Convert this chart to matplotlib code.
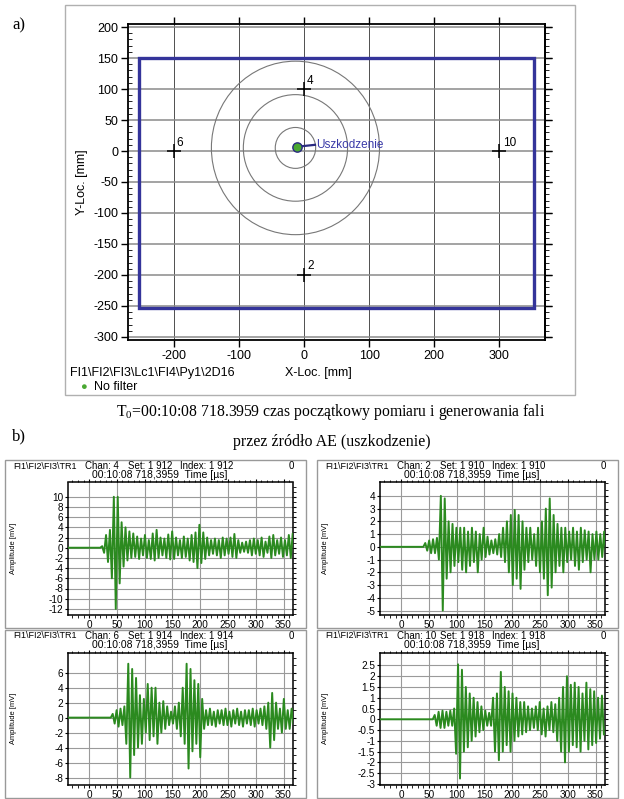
import numpy as np
import matplotlib.pyplot as plt
from matplotlib.patches import Rectangle, Ellipse
from matplotlib.ticker import MultipleLocator

W, H = 624, 799

# --- a) location plot ---
sensor_ids = ['6', '4', '2', '10']
sensor_x = [-200, 0, 0, 300]
sensor_y = [0, 100, -200, 0]
plate_x = [-253, 353]
plate_y = [-253, 150]
source_x, source_y = -10, 7
circle_cx, circle_cy = -13, 5
circle_rx = [31, 80, 129]
circle_ry = [33, 86, 140]

# --- b) waveforms (peak amplitudes in mV, one every half period) ---
chan_ids = [4, 2, 6, 10]
set_ids = [1912, 1910, 1914, 1918]
onsets = [20, 40, 39, 57]          # us
pre_start = -38                    # us, start of pre-trigger
half_period = 3.5                  # us
ylims = [(-13.2, 12.8), (-5.35, 5.05), (-9.0, 8.7), (-3.05, 3.1)]
yticks = [np.arange(-12, 11, 2), np.arange(-5, 5, 1), np.arange(-8, 7, 2), np.arange(-3, 2.6, 0.5)]

chan4 = [0.3, -1.0, 2.5, -2.8, 3.5, -6.0, 10.0, -12.0, 10.0, -7.0,
         5.0, -3.7, 4.0, -2.5, 3.2, -2.0, 2.8, -1.8, 2.2, -2.2,
         1.8, -1.5, 2.5, -2.0, 1.5, -2.2, 2.8, -2.5, 3.5, -2.0,
         2.0, -1.5, 1.8, -2.0, 2.6, -2.3, 3.2, -2.2, 2.0, -1.5,
         1.5, -2.0, 2.2, -1.8, 1.8, -2.5, 2.5, -2.8, 3.0, -4.0,
         4.5, -3.0, 3.0, -2.2, 2.0, -1.5, 1.5, -1.2, 1.8, -1.5,
         1.5, -2.0, 2.0, -1.5, 1.8, -1.2, 2.0, -1.8, 2.7, -2.0,
         1.5, -1.0, 1.0, -0.8, 1.2, -1.0, 1.5, -1.5, 1.8, -1.2,
         1.5, -1.5, 2.0, -1.8, 1.2, -1.0, 2.2, -2.0, 2.5, -1.5,
         1.5, -1.2, 2.0, -1.8, 1.5, -1.5, 2.5, -2.0, 2.8, -1.5]
chan2 = [0.3, -0.3, 0.5, -0.5, 0.6, -0.5, 0.7, -1.0, 4.0, -5.0,
         3.8, -2.5, 2.0, -2.0, 1.8, -1.5, 1.5, -1.2, 1.5, -1.8,
         1.5, -2.0, 1.2, -1.5, 1.5, -1.2, 1.2, -2.0, 1.0, -1.0,
         1.5, -0.8, 0.8, -0.6, 0.5, -0.5, 0.6, -0.6, 1.0, -0.8,
         1.5, -1.2, 2.0, -2.0, 2.5, -3.0, 2.9, -2.5, 2.5, -3.3,
         2.0, -1.8, 1.5, -1.2, 1.5, -1.0, 1.0, -1.5, 1.5, -2.0,
         2.0, -2.5, 3.0, -3.8, 3.8, -3.2, 2.5, -2.0, 1.8, -1.5,
         1.5, -2.0, 1.5, -1.2, 1.2, -1.0, 1.5, -1.5, 1.2, -1.8,
         1.5, -1.2, 1.3, -1.0, 1.2, -2.0, 1.0, -1.0, 1.2, -1.0,
         1.0, -0.8, 1.2, -0.5]
chan6 = [0.5, -0.8, 1.0, -1.2, 1.2, -1.0, 1.5, -3.5, 7.2, -8.0,
         6.5, -5.0, 5.3, -4.0, 3.0, -3.5, 2.5, -2.0, 4.5, -3.0,
         4.0, -2.5, 4.0, -3.5, 2.0, -2.0, 2.2, -1.5, 1.5, -1.0,
         0.8, -0.8, 1.5, -1.5, 2.0, -2.5, 4.0, -3.5, 7.2, -6.8,
         6.5, -4.5, 5.0, -3.5, 4.5, -5.3, 2.5, -1.5, 1.0, -1.0,
         1.2, -1.0, 0.8, -1.2, 1.0, -0.8, 1.0, -1.0, 1.2, -1.0,
         0.8, -1.2, 1.0, -0.8, 1.2, -1.0, 0.8, -1.2, 1.0, -0.8,
         1.0, -1.0, 1.2, -1.2, 1.0, -0.8, 1.2, -1.0, 1.5, -1.5,
         2.0, -4.0, 3.3, -3.0, 2.0, -1.5, 1.2, -2.0, 2.5, -1.5,
         1.0, -1.5, 1.2, -0.8]
chan10 = [0.2, -0.3, 0.35, -0.4, 0.4, -0.4, 0.35, -0.3, 0.4, -0.3,
          0.5, -1.6, 2.55, -2.75, 2.3, -1.5, 1.5, -1.3, 1.2, -1.0,
          1.0, -0.8, 0.8, -0.6, 0.6, -0.5, 0.4, -0.3, 0.3, -0.3,
          1.0, -1.5, 1.2, -1.9, 2.2, -1.5, 1.5, -1.2, 1.3, -1.5,
          1.2, -1.0, 1.0, -0.8, 0.8, -0.7, 0.8, -0.6, 0.6, -0.5,
          0.5, -0.4, 0.6, -0.5, 0.8, -0.7, 0.5, -0.8, 0.6, -0.5,
          0.8, -0.6, 0.7, -1.0, 1.0, -1.5, 1.5, -2.0, 2.0, -1.5,
          1.6, -1.2, 1.7, -1.3, 1.5, -1.5, 1.2, -1.0, 1.7, -1.4,
          1.4, -1.2, 1.3, -1.1, 1.0, -0.9, 1.1, -0.7]
waves = [chan4, chan2, chan6, chan10]

plt.rcParams['font.family'] = ['Liberation Sans', 'DejaVu Sans']
plt.rcParams['axes.unicode_minus'] = False
fig = plt.figure(figsize=(W / 100, H / 100), dpi=100)
fig.patch.set_facecolor('white')


def fx(px):
    return px / W


def fy(py):
    return 1 - py / H


def frame(x0, y0, x1, y1, color='#b0b0b0', lw=1.0):
    fig.patches.append(Rectangle((fx(x0), fy(y1)), fx(x1) - fx(x0), fy(y0) - fy(y1),
                                 transform=fig.transFigure, fill=False,
                                 edgecolor=color, linewidth=lw))


# ---------- panel a ----------
frame(65, 5, 575, 395)
fig.text(fx(12), fy(25), 'a)', family='Liberation Serif', fontsize=12, va='center')

ax = fig.add_axes([fx(128), fy(340), fx(545) - fx(128), fy(24) - fy(340)])
ax.set_xlim(-270, 370)
ax.set_ylim(-305, 205)
ax.set_xticks(np.arange(-200, 301, 100))
ax.set_yticks(np.arange(-300, 201, 50))
ax.yaxis.set_minor_locator(MultipleLocator(10))
for v in np.arange(-200, 301, 100):
    ax.axvline(v, color='#333333', lw=0.6, zorder=1)
for v in np.arange(-300, 201, 50):
    ax.axhline(v, color='#8a8a8a', lw=1.1, zorder=1)
ax.tick_params(which='major', direction='out', length=5, width=1.0,
               top=True, right=True, labelsize=9, pad=2)
ax.tick_params(which='minor', direction='in', length=3, width=0.6, left=True, right=False)
sec = ax.secondary_yaxis('right')
sec.set_yticks(np.arange(-300, 201, 50))
sec.yaxis.set_minor_locator(MultipleLocator(10))
sec.tick_params(which='both', direction='out', labelright=False)
sec.tick_params(which='major', length=5)
sec.tick_params(which='minor', length=3, width=0.6)
for s in ax.spines.values():
    s.set_linewidth(1.3)
sec.spines['right'].set_linewidth(1.3)

ax.add_patch(Rectangle((plate_x[0], plate_y[0]), plate_x[1] - plate_x[0], plate_y[1] - plate_y[0],
                       fill=False, edgecolor='#34349a', lw=2.4, zorder=3))
for rx, ry in zip(circle_rx, circle_ry):
    ax.add_patch(Ellipse((circle_cx, circle_cy), 2 * rx, 2 * ry, fill=False,
                         edgecolor='#777777', lw=0.8, zorder=2))
ax.scatter(sensor_x, sensor_y, marker='+', s=110, color='black', linewidths=1.1, zorder=4)
for sid, sx, sy in zip(sensor_ids, sensor_x, sensor_y):
    ax.text(sx + 5, sy + 4, sid, fontsize=8.5, ha='left', va='bottom', zorder=5)
ax.plot([source_x, 17], [source_y, 10], color='#2a2a80', lw=1.6, zorder=5)
ax.scatter([source_x], [source_y], s=45, color='#4aa832', edgecolors='#2a2a80',
           linewidths=1.0, zorder=6)
ax.text(18, 10, 'Uszkodzenie', color='#3a3aa8', fontsize=8.5, va='center', zorder=6)
ax.set_ylabel('Y-Loc. [mm]', fontsize=9, labelpad=4)
fig.text(fx(318), fy(373), 'X-Loc. [mm]', fontsize=9, ha='center', va='center')
fig.text(fx(70), fy(373), 'FI1\\FI2\\FI3\\Lc1\\FI4\\Py1\\2D16', fontsize=9, va='center')
fig.text(fx(83), fy(387), '\u25cf', color='#4aa832', fontsize=8, ha='center', va='center')
fig.text(fx(94), fy(387), 'No filter', fontsize=9, va='center')

# ---------- caption ----------
fig.text(fx(331), fy(412), r'T$_{\mathregular{0}}$=00:10:08 718.3959 czas początkowy pomiaru i generowania fali',
         family='Liberation Serif', fontsize=11.3, ha='center', va='center')
fig.text(fx(332), fy(442), 'przez źródło AE (uszkodzenie)',
         family='Liberation Serif', fontsize=11.5, ha='center', va='center')
fig.text(fx(12), fy(436), 'b)', family='Liberation Serif', fontsize=12, va='center')

# ---------- panel b ----------
col_x = [0, 312, 0, 312]
row_y = [460, 460, 630, 630]
for k in range(4):
    ox, oy = col_x[k], row_y[k]
    frame(ox + 5, oy, ox + 306, oy + 168, color='#999999', lw=1.0)
    setstr = f'{set_ids[k]:,}'.replace(',', ' ')
    fs = 7.0
    l1 = oy + 6
    fig.text(fx(ox + 13), fy(l1), 'FI1\\FI2\\FI3\\TR1', fontsize=6.5, va='center')
    fig.text(fx(ox + 85), fy(l1), f'Chan: {chan_ids[k]}', fontsize=fs, va='center')
    fig.text(fx(ox + 128), fy(l1), f'Set: {setstr}', fontsize=fs, va='center')
    fig.text(fx(ox + 180), fy(l1), f'Index: {setstr}', fontsize=fs, va='center')
    fig.text(fx(ox + 289), fy(l1), '0', fontsize=fs, va='center')
    fig.text(fx(ox + 160), fy(oy + 14.5), '00:10:08 718,3959  Time [\u00b5s]',
             fontsize=7.5, ha='center', va='center')

    top = oy + 22.5
    bot = oy + 155
    a = fig.add_axes([fx(ox + 68), fy(bot), fx(225), fy(top) - fy(bot)])
    v = waves[k]
    t = np.r_[pre_start, onsets[k], onsets[k] + half_period * (1 + np.arange(len(v)))]
    y = np.r_[0, 0, v]
    a.plot(t, y, color='#2b8a1f', lw=1.4, zorder=3)
    a.set_xlim(-38, 367)
    a.set_ylim(*ylims[k])
    a.set_xticks(np.arange(0, 351, 50))
    a.xaxis.set_minor_locator(MultipleLocator(10))
    a.set_yticks(yticks[k])
    a.set_yticklabels([f'{tv:g}' for tv in yticks[k]])
    step = yticks[k][1] - yticks[k][0]
    a.yaxis.set_minor_locator(MultipleLocator(step / 2))
    a.grid(True, which='major', color='#9a9a9a', lw=0.8, zorder=1)
    a.tick_params(which='major', direction='out', length=2.5, width=0.8,
                  top=True, right=True, labelsize=7.2, pad=1)
    a.tick_params(which='minor', direction='out', length=1.8, width=0.6,
                  top=True, right=True, left=False)
    for s in a.spines.values():
        s.set_linewidth(1.1)
    a.set_ylabel('Amplitude [mV]', fontsize=5.4, labelpad=3)
    a.yaxis.set_label_coords(-0.225, 0.5)

fig.savefig('out.png', dpi=100, facecolor='white')
